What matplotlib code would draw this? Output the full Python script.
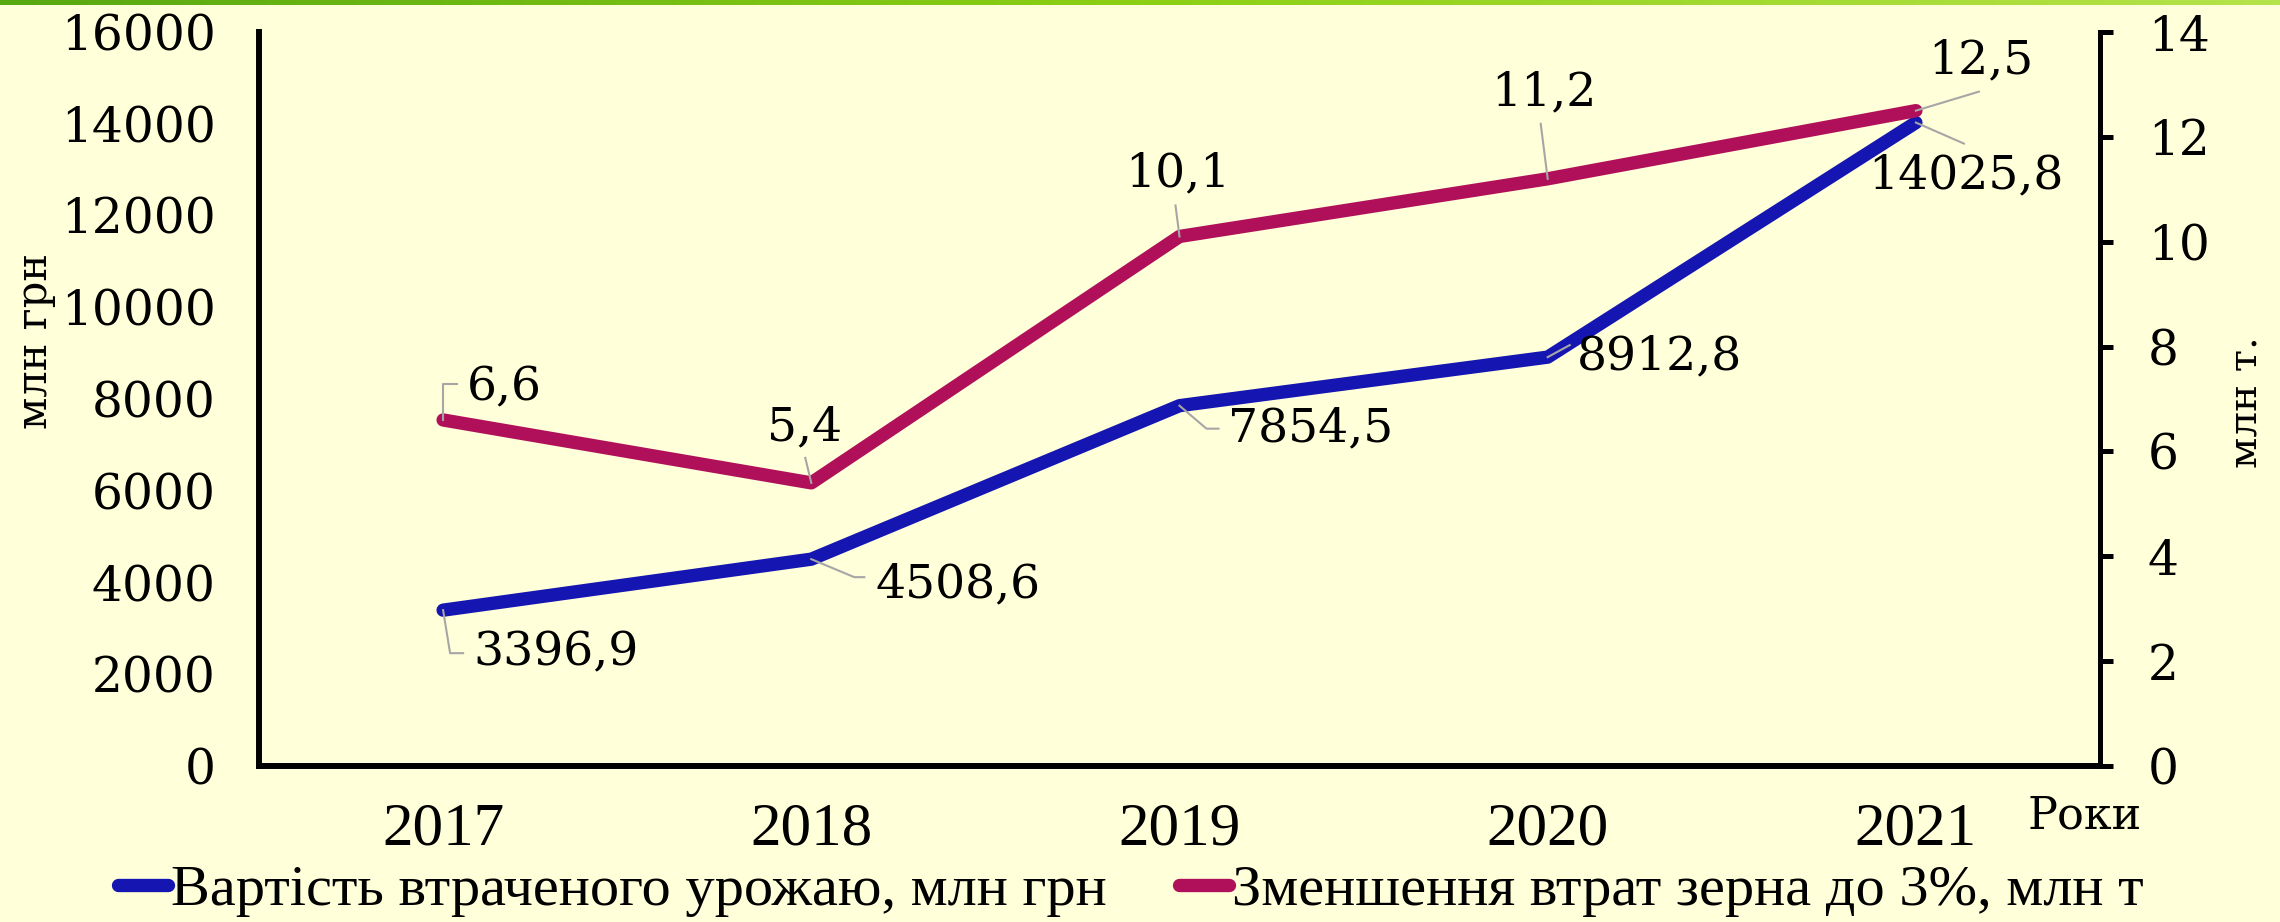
import matplotlib
matplotlib.use('Agg')
import matplotlib.pyplot as plt
import numpy as np
from matplotlib.lines import Line2D
from matplotlib.transforms import IdentityTransform
from matplotlib.colors import LinearSegmentedColormap

# data
years = ['2017', '2018', '2019', '2020', '2021']
lost_value = [3396.9, 4508.6, 7854.5, 8912.8, 14025.8]      # млн грн
loss_cut = [6.6, 5.4, 10.1, 11.2, 12.5]                   # млн т
lost_value_text = ['3396,9', '4508,6', '7854,5', '8912,8', '14025,8']
loss_cut_text = ['6,6', '5,4', '10,1', '11,2', '12,5']
left_ticks = [0, 2000, 4000, 6000, 8000, 10000, 12000, 14000, 16000]
right_ticks = [0, 2, 4, 6, 8, 10, 12, 14]
series_names = ['Вартість втраченого урожаю, млн грн',
                'Зменшення втрат зерна до 3%, млн т']

bg = '#FFFFDA'
blue = '#1515B2'
magenta = '#B01059'
grey = '#A6A6A6'
serif = 'DejaVu Serif'
narrow = 'Liberation Serif'
lw = 9.6

# label offsets in pixels: (dx, dy, ha, leader vertices)
value_pos = [
    (30, -43, 'left', [(0, 0), (7, -43), (20, -43)]),
    (64, -26, 'left', [(0, 0), (43, -18), (53, -18)]),
    (48, -23, 'left', [(0, 0), (27, -23), (39, -23)]),
    (29, 0, 'left', [(0, 0), (22, 12)]),
    (50, -53, 'center', [(0, 0), (48, -21)]),
]
cut_pos = [
    (24, 32, 'left', [(0, 0), (0, 36), (14, 36)]),
    (-7, 55, 'center', [(0, 0), (-6, 25)]),
    (-2, 63, 'center', [(0, 0), (-4, 31)]),
    (-4, 86, 'center', [(0, 0), (-7, 55)]),
    (65, 50, 'center', [(0, 0), (63, 19)]),
]

fig = plt.figure(figsize=(22.8, 9.22), dpi=100, facecolor=bg)
ax = fig.add_axes([259 / 2280, 1 - 766 / 922, (2100 - 259) / 2280, (766 - 32) / 922])
ax.set_facecolor(bg)
ax2 = ax.twinx()

x = np.arange(len(years))
ax.plot(x, lost_value, color=blue, lw=lw, solid_capstyle='round',
        solid_joinstyle='round', zorder=3)
ax2.plot(x, loss_cut, color=magenta, lw=lw, solid_capstyle='round',
         solid_joinstyle='round', zorder=3)

ax.set_xlim(-0.5, len(years) - 0.5)
ax.set_ylim(0, 16000)
ax2.set_ylim(0, 14)

ax.set_xticks(x)
ax.set_xticklabels(years, fontfamily=narrow, fontsize=44)
ax.tick_params(axis='x', length=0, pad=26)
ax.set_yticks(left_ticks)
ax.set_yticklabels([str(t) for t in left_ticks], fontfamily=serif, fontsize=35)
ax.tick_params(axis='y', length=0, pad=31)
ax2.set_yticks(right_ticks)
ax2.set_yticklabels([str(t) for t in right_ticks], fontfamily=serif, fontsize=35)
ax2.tick_params(axis='y', length=9.4, width=3.6, direction='out', pad=25)

for s in ['top', 'right']:
    ax.spines[s].set_visible(False)
for s in ['top', 'left', 'bottom']:
    ax2.spines[s].set_visible(False)
ax.spines['left'].set_linewidth(4.3)
ax.spines['bottom'].set_linewidth(4.3)
ax2.spines['right'].set_linewidth(3.6)


def add_labels(axis, values, texts, pos):
    for xi, v, t, (dx, dy, ha, leader) in zip(x, values, texts, pos):
        axis.annotate(t, xy=(xi, v), xytext=(dx, dy), textcoords='offset pixels',
                      ha=ha, va='center', fontfamily=serif, fontsize=34, zorder=5)
        px, py = axis.transData.transform((xi, v))
        lx = [px + a for a, b in leader]
        ly = [py + b for a, b in leader]
        fig.add_artist(Line2D(lx, ly, transform=IdentityTransform(), color=grey,
                              lw=1.5, zorder=4))


add_labels(ax, lost_value, lost_value_text, value_pos)
add_labels(ax2, loss_cut, loss_cut_text, cut_pos)

fig.text(2085 / 2280, 1 - 816 / 922, 'Роки', ha='center', va='center',
         fontfamily=serif, fontsize=32)
fig.text(35 / 2280, 1 - 341 / 922, 'млн грн', rotation=90, ha='center', va='center',
         fontfamily=serif, fontsize=30)
fig.text(2246 / 2280, 1 - 402 / 922, 'млн т.', rotation=90, ha='center', va='center',
         fontfamily=serif, fontsize=29)

handles = [Line2D([], [], color=blue, lw=lw, solid_capstyle='round'),
           Line2D([], [], color=magenta, lw=lw, solid_capstyle='round')]
fig.legend(handles, series_names, loc='center', bbox_to_anchor=(0.496, 1 - 891 / 922),
           ncol=2, frameon=False, prop={'family': narrow, 'size': 42},
           handlelength=0.85, handletextpad=0.05, columnspacing=1.25, borderaxespad=0)

# green strip along the top edge
gax = fig.add_axes([0, 1 - 5 / 922, 1, 5 / 922])
green = LinearSegmentedColormap.from_list('g', ['#58A812', '#8CCF14', '#B5E34A'])
gax.imshow(np.linspace(0, 1, 256).reshape(1, -1), aspect='auto', cmap=green)
gax.axis('off')

fig.savefig('out.png', dpi=100, facecolor=bg)
